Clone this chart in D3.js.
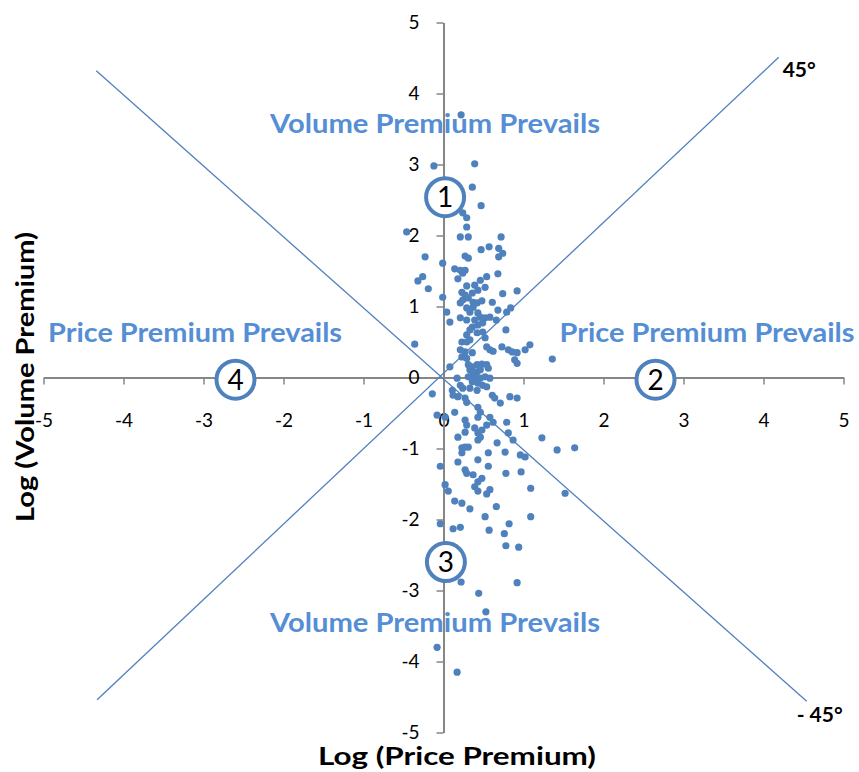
<!DOCTYPE html>
<html><head><meta charset="utf-8">
<script src="https://cdn.jsdelivr.net/npm/d3@7"></script>
<style>body{margin:0;background:#fff}svg{display:block}</style>
</head><body><svg id="c" width="859" height="772"></svg>
<script>
const xTicks = [-5,-4,-3,-2,-1,0,1,2,3,4,5];
const yTicks = [-5,-4,-3,-2,-1,0,1,2,3,4,5];
const priceLog = [0.22,-0.12,0.39,0.36,0.47,0.24,0.29,0.29,-0.46,0.21,0.31,0.72,0.47,0.57,0.69,0.74,0.69,-0.23,-0.01,0.27,0.31,0.14,0.21,0.27,0.24,0.54,0.68,-0.32,-0.26,0.18,
-0.19,-0.01,0.46,0.29,0.39,0.52,0.23,0.27,0.36,0.43,0.74,0.92,0.21,0.24,0.31,0.37,0.42,0.48,0.61,0.04,0.29,0.37,0.33,0.43,0.46,0.68,0.79,0.84,0.08,0.21,
0.29,0.39,0.52,0.58,0.66,0.36,0.43,0.49,0.33,0.42,0.49,0.78,0.29,0.52,-0.36,0.23,0.29,0.33,0.54,0.58,0.62,0.73,0.81,0.86,0.92,1.02,1.08,1.36,0.89,0.92,
0.21,0.27,0.36,0.23,0.29,0.08,0.31,0.36,0.42,0.48,0.54,0.56,0.33,0.42,0.46,0.37,0.31,0.39,0.46,0.52,0.58,0.17,0.36,0.43,0.49,0.54,0.21,0.24,0.33,0.42,
-0.14,0.11,0.12,0.18,0.27,0.29,0.61,0.64,0.71,0.83,0.92,-0.08,0.02,0.14,0.43,0.46,0.43,0.27,0.29,0.58,0.62,0.54,0.79,0.81,0.39,0.43,0.48,0.18,1.23,0.27,
0.46,0.43,0.67,0.87,1.42,1.64,-0.04,0.23,0.27,0.31,0.23,0.18,0.43,0.56,0.77,0.96,1.02,0.56,0.27,0.29,0.37,0.48,0.43,0.78,0.97,0.02,0.06,0.39,0.43,0.58,
0.54,1.09,1.52,0.14,0.23,0.33,0.66,-0.04,0.12,0.21,0.52,0.57,0.82,0.76,1.09,0.78,0.94,0.22,0.44,0.92,0.53,-0.08,0.17];
const volumeLog = [3.70,2.98,3.01,2.68,2.42,2.32,2.25,2.12,2.05,1.98,1.98,1.98,1.80,1.84,1.82,1.75,1.70,1.70,1.61,1.71,1.68,1.53,1.51,1.51,1.47,1.42,1.46,1.36,1.42,1.39,
1.25,1.13,1.37,1.29,1.30,1.27,1.20,1.16,1.19,1.23,1.18,1.22,1.05,1.09,1.12,1.06,1.05,1.08,1.06,0.92,0.98,0.99,0.92,0.91,0.85,0.95,0.92,0.98,0.78,0.84,
0.81,0.81,0.84,0.85,0.81,0.71,0.74,0.77,0.67,0.63,0.64,0.67,0.60,0.56,0.47,0.50,0.50,0.53,0.43,0.39,0.37,0.43,0.39,0.36,0.35,0.39,0.46,0.26,0.25,0.20,
0.39,0.36,0.35,0.29,0.27,0.15,0.18,0.15,0.18,0.19,0.18,0.13,0.11,0.08,0.11,0.06,0.01,0.01,-0.01,0.01,-0.01,-0.01,-0.06,-0.08,-0.11,-0.13,-0.11,-0.15,-0.15,-0.18,
-0.23,-0.18,-0.25,-0.27,-0.29,-0.35,-0.25,-0.29,-0.36,-0.27,-0.29,-0.53,-0.56,-0.49,-0.42,-0.49,-0.56,-0.60,-0.67,-0.56,-0.63,-0.67,-0.63,-0.78,-0.71,-0.78,-0.74,-0.84,-0.85,-0.77,
-0.84,-0.88,-0.92,-0.88,-1.02,-0.99,-1.25,-0.99,-0.98,-0.98,-1.06,-1.19,-1.16,-1.06,-1.05,-1.09,-1.12,-1.25,-1.30,-1.35,-1.37,-1.42,-1.47,-1.35,-1.33,-1.51,-1.60,-1.54,-1.60,-1.58,
-1.64,-1.56,-1.63,-1.74,-1.77,-1.85,-1.82,-2.06,-2.13,-2.11,-1.96,-2.15,-2.06,-2.20,-1.96,-2.37,-2.39,-2.88,-3.04,-2.89,-3.30,-3.80,-4.15];
const guideNames = ["45°", "- 45°"];
const guideStart = [[-4.33,-4.54],[-4.34,4.32]];
const guideEnd = [[4.19,4.51],[4.54,-4.56]];
const regionText = ["Volume Premium Prevails","Price Premium Prevails","Volume Premium Prevails","Price Premium Prevails"];
const quadrantIds = ["1","2","3","4"];
const xTitle = "Log (Price Premium)";
const yTitle = "Log (Volume Premium)";

const svg = d3.select("#c");
const x = d3.scaleLinear().domain([-5,5]).range([43.5,843.5]);
const y = d3.scaleLinear().domain([-5,5]).range([732.5,22.5]);
const BLUE = "#4F81BD", TXTBLUE = "#558ED5", AX = "#868686";
const FONT = "Lato, 'Open Sans', sans-serif";
const fmt = d => String(d);

// region labels (behind axes)
const regionPos = [[435,133,330],[195,342,294],[435,632,330],[707,342,295]];
svg.append("g").selectAll("text").data(regionText).join("text")
  .attr("x",(d,i)=>regionPos[i][0]).attr("y",(d,i)=>regionPos[i][1])
  .attr("text-anchor","middle").attr("font-family",FONT).attr("font-weight","bold")
  .attr("font-size",26).attr("fill",TXTBLUE)
  .attr("textLength",(d,i)=>regionPos[i][2]).attr("lengthAdjust","spacingAndGlyphs")
  .text(d=>d);

// axes
const gx = svg.append("g").attr("transform",`translate(0,${y(0)})`)
  .call(d3.axisBottom(x).tickValues(xTicks).tickFormat(fmt).tickSize(7).tickSizeOuter(0).tickPadding(29));
const gy = svg.append("g").attr("transform",`translate(${x(0)},0)`)
  .call(d3.axisLeft(y).tickValues(yTicks).tickFormat(fmt).tickSize(7).tickSizeOuter(0).tickPadding(17));
[gx,gy].forEach(g=>{
  g.selectAll("path.domain").attr("stroke",AX).attr("stroke-width",2);
  g.selectAll(".tick line").attr("stroke",AX).attr("stroke-width",1.5);
  g.selectAll(".tick text").attr("font-family",FONT).attr("font-size",19).attr("fill","#000");
});

// guide lines
svg.append("g").selectAll("line").data(guideNames).join("line")
  .attr("x1",(d,i)=>x(guideStart[i][0])).attr("y1",(d,i)=>y(guideStart[i][1]))
  .attr("x2",(d,i)=>x(guideEnd[i][0])).attr("y2",(d,i)=>y(guideEnd[i][1]))
  .attr("stroke",BLUE).attr("stroke-width",1.3);
svg.append("g").selectAll("text").data(guideNames).join("text")
  .attr("x",(d,i)=>i===0?x(guideEnd[i][0])+4:x(guideEnd[i][0])-10)
  .attr("y",(d,i)=>i===0?77:722)
  .attr("font-family",FONT).attr("font-weight","bold").attr("font-size",21).attr("fill","#000")
  .text(d=>d);

// points
svg.append("g").selectAll("circle").data(priceLog).join("circle")
  .attr("cx",d=>x(d)).attr("cy",(d,i)=>y(volumeLog[i])).attr("r",3.6)
  .attr("fill",BLUE);

// quadrant markers
const qPos = [[0.02,2.54],[2.65,-0.03],[0.03,-2.6],[-2.6,-0.03]];
const qg = svg.append("g").selectAll("g").data(quadrantIds).join("g")
  .attr("transform",(d,i)=>`translate(${x(qPos[i][0])},${y(qPos[i][1])})`);
qg.append("circle").attr("r",19).attr("fill","#fff").attr("stroke",BLUE).attr("stroke-width",4);
qg.append("text").attr("text-anchor","middle").attr("dy","0.36em")
  .attr("font-family",FONT).attr("font-size",28).attr("fill","#000").text(d=>d);

// axis titles
svg.append("text").attr("x",457).attr("y",765).attr("text-anchor","middle")
  .attr("font-family",FONT).attr("font-weight","bold").attr("font-size",24)
  .attr("textLength",278).attr("lengthAdjust","spacingAndGlyphs").text(xTitle);
svg.append("text").attr("transform","translate(34,377) rotate(-90)").attr("text-anchor","middle")
  .attr("font-family",FONT).attr("font-weight","bold").attr("font-size",25)
  .attr("textLength",290).attr("lengthAdjust","spacingAndGlyphs").text(yTitle);
</script></body></html>
